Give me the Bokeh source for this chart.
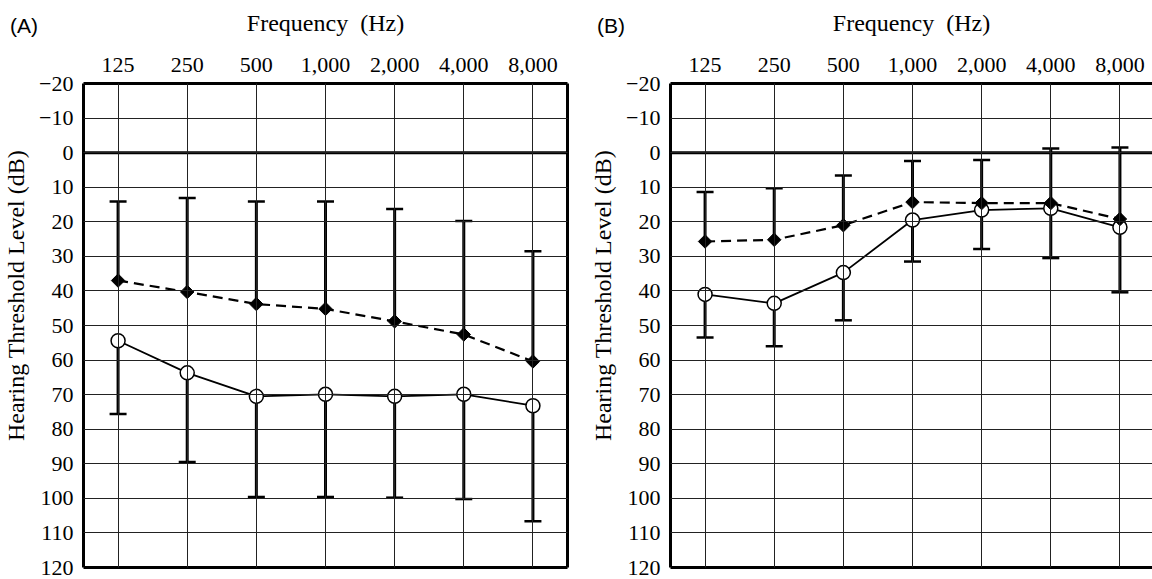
import numpy as np
from bokeh.plotting import figure
from bokeh.models import (ColumnDataSource, Range1d, FixedTicker, LinearAxis, Span,
                          Whisker, TeeHead, Div, InlineStyleSheet)
from bokeh.layouts import row, column
from bokeh.embed import file_html
from bokeh.resources import INLINE

# ---- data ----
freqs = ["125", "250", "500", "1,000", "2,000", "4,000", "8,000"]
y_ticks = list(range(-20, 121, 10))

# Panel A
a_diamond = [37.0, 40.3, 43.8, 45.2, 48.8, 52.6, 60.4]
a_diamond_cap = [14.1, 13.1, 14.1, 14.1, 16.3, 19.8, 28.5]
a_circle = [54.4, 63.7, 70.5, 69.9, 70.5, 69.9, 73.2]
a_circle_cap = [75.6, 89.5, 99.6, 99.6, 99.8, 100.2, 106.6]

# Panel B
b_diamond = [25.7, 25.2, 21.0, 14.3, 14.6, 14.6, 19.2]
b_diamond_cap = [11.4, 10.3, 6.6, 2.4, 2.1, -1.2, -1.5]
b_circle = [41.0, 43.6, 34.7, 19.5, 16.6, 16.1, 21.6]
b_circle_cap = [53.5, 56.0, 48.5, 31.5, 27.9, 30.5, 40.4]

SERIF = "Liberation Serif, Times New Roman, DejaVu Serif, serif"
SANS = "'Liberation Sans', Arial, 'DejaVu Sans', sans-serif"

FRAME = 484
H = 579
LEFT = 83
TOP = 83


def make_panel(diamond, diamond_cap, circle, circle_cap, width, x_end,
               border_right, right_axis):
    xs = list(range(len(freqs)))
    p = figure(width=width, height=H,
               x_range=Range1d(-0.5, x_end), y_range=Range1d(120, -20),
               x_axis_location="above", output_backend="svg",
               toolbar_location=None,
               min_border_left=LEFT, min_border_right=border_right,
               min_border_top=TOP, min_border_bottom=H - TOP - FRAME)
    p.outline_line_color = None
    p.background_fill_color = "white"
    p.border_fill_color = "white"

    # top axis (frequency)
    xa = p.xaxis[0]
    xa.ticker = FixedTicker(ticks=xs)
    xa.major_label_overrides = {i: f for i, f in enumerate(freqs)}
    xa.major_tick_line_color = None
    xa.major_tick_out = 0
    xa.major_tick_in = 0
    xa.minor_tick_line_color = None
    xa.minor_tick_out = 0
    xa.axis_line_width = 3
    xa.axis_line_color = "black"
    xa.major_label_text_font = SERIF
    xa.major_label_text_font_size = "22px"
    xa.major_label_text_color = "black"
    xa.major_label_standoff = 12
    xa.axis_label = "Frequency\u00a0 (Hz)"
    xa.axis_label_text_font = SERIF
    xa.axis_label_text_font_size = "24px"
    xa.axis_label_text_font_style = "normal"
    xa.axis_label_text_color = "black"
    xa.axis_label_standoff = 19

    # left axis (dB)
    ya = p.yaxis[0]
    ya.ticker = FixedTicker(ticks=y_ticks)
    ya.major_label_overrides = {-20: "\u221220", -10: "\u221210"}
    ya.major_tick_line_color = None
    ya.major_tick_out = 0
    ya.major_tick_in = 0
    ya.minor_tick_line_color = None
    ya.minor_tick_out = 0
    ya.axis_line_width = 3
    ya.axis_line_color = "black"
    ya.major_label_text_font = SERIF
    ya.major_label_text_font_size = "22px"
    ya.major_label_text_color = "black"
    ya.major_label_standoff = 10
    # leading no-break spaces lift the title so it sits where the reference has it
    ya.axis_label = "\u00a0" * 10 + "Hearing Threshold Level (dB)"
    ya.axis_label_text_font = SERIF
    ya.axis_label_text_font_size = "24px"
    ya.axis_label_text_font_style = "normal"
    ya.axis_label_text_color = "black"
    ya.axis_label_standoff = 7

    # bottom / right border lines
    bot = LinearAxis(ticker=FixedTicker(ticks=[]), axis_line_width=3,
                     axis_line_color="black", major_tick_line_color=None,
                     minor_tick_line_color=None, major_tick_out=0,
                     minor_tick_out=0)
    p.add_layout(bot, "below")
    if right_axis:
        rt = LinearAxis(ticker=FixedTicker(ticks=[]), axis_line_width=3,
                        axis_line_color="black", major_tick_line_color=None,
                        minor_tick_line_color=None, major_tick_out=0,
                        minor_tick_out=0)
        p.add_layout(rt, "right")

    # grid
    p.xgrid.ticker = FixedTicker(ticks=xs)
    p.ygrid.ticker = FixedTicker(ticks=y_ticks)
    for g in (p.xgrid[0], p.ygrid[0]):
        g.grid_line_color = "#222222"
        g.grid_line_width = 1
        g.grid_line_alpha = 1
        g.level = "overlay"

    p.add_layout(Span(location=0, dimension="width", line_color="black",
                      line_width=3))

    # error bars
    src_d = ColumnDataSource(dict(x=xs, mean=diamond, cap=diamond_cap))
    src_c = ColumnDataSource(dict(x=xs, mean=circle, cap=circle_cap))
    for src in (src_d, src_c):
        w = Whisker(source=src, base="x", lower="mean", upper="cap",
                    dimension="height", line_color="black", line_width=3,
                    upper_head=TeeHead(size=17, line_width=2.5, line_color="black"),
                    lower_head=None, level="underlay")
        p.add_layout(w)

    # lines
    p.line(xs, circle, line_color="black", line_width=1.8)
    p.line(xs, diamond, line_color="black", line_width=2.2, line_dash="10 6")

    # markers
    p.scatter(xs, circle, marker="circle", size=14, fill_color="white",
              line_color="black", line_width=1.5)
    p.scatter(xs, diamond, marker="square", angle=np.pi / 4, size=9.5,
              fill_color="black", line_color="black", line_width=1)
    return p


TAG_CSS = InlineStyleSheet(css=(
    ":host { font-size: 21px !important; line-height: 24px !important; "
    f"font-family: {SANS} !important; color: black !important; }}\n"
    "div, span { font-size: 21px !important; line-height: 24px !important; "
    f"font-family: {SANS} !important; color: black !important; }}\n"
))


def tag_div(text, left):
    return Div(text=text, margin=0, stylesheets=[TAG_CSS],
               styles={"position": "absolute", "left": f"{left}px",
                       "top": "14px", "z-index": "10"})


n = len(freqs)
a_width = LEFT + FRAME + 20
pA = make_panel(a_diamond, a_diamond_cap, a_circle, a_circle_cap,
                width=a_width, x_end=n - 0.5, border_right=20,
                right_axis=True)
b_width = 1152 - a_width
b_frame = b_width - LEFT
pB = make_panel(b_diamond, b_diamond_cap, b_circle, b_circle_cap,
                width=b_width, x_end=-0.5 + b_frame * n / FRAME,
                border_right=0, right_axis=False)

layout = column(row(pA, pB), tag_div("(A)", 10), tag_div("(B)", a_width + 10))
open("out.html", "w").write(file_html(layout, INLINE))
